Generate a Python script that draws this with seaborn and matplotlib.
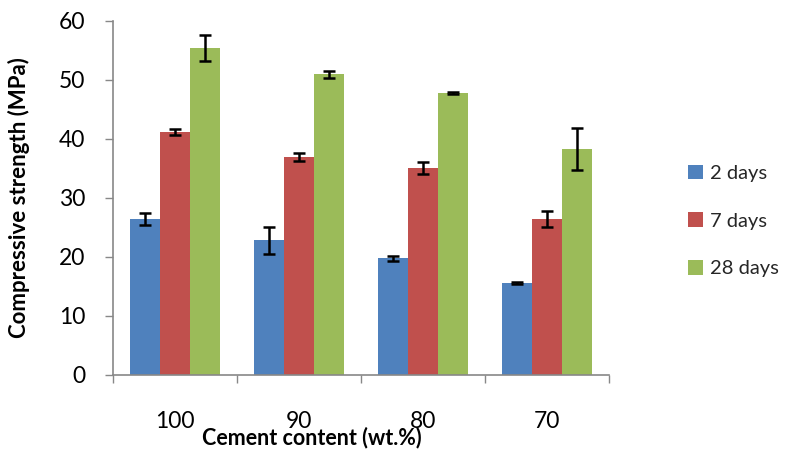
import matplotlib.pyplot as plt
import numpy as np
import pandas as pd
import seaborn as sns

sns.set_theme(style="white")
plt.rcParams["font.family"] = ["Lato", "DejaVu Sans"]

contents = ["100", "90", "80", "70"]
ages = ["2 days", "7 days", "28 days"]
strength_2d = [26.4, 22.8, 19.8, 15.6]
strength_7d = [41.2, 37.0, 35.1, 26.4]
strength_28d = [55.4, 51.0, 47.8, 38.3]
err_2d = [1.05, 2.3, 0.4, 0.15]
err_7d = [0.5, 0.7, 1.0, 1.4]
err_28d = [2.2, 0.6, 0.2, 3.6]
colors = ["#4F81BD", "#C0504D", "#9BBB59"]

df = pd.DataFrame({
    "content": contents * 3,
    "age": [a for a in ages for _ in contents],
    "strength": strength_2d + strength_7d + strength_28d,
})
errs = [err_2d, err_7d, err_28d]
means = [strength_2d, strength_7d, strength_28d]

fig = plt.figure(figsize=(7.92, 4.5), dpi=100)
ax = fig.add_axes([0.1427, 0.1667, 0.6263, 0.7867])

sns.barplot(df, x="content", y="strength", hue="age", order=contents,
            hue_order=ages, palette=colors, saturation=1, width=0.72,
            errorbar=None, linewidth=0, ax=ax)

# error bars at bar centres
for cont, m, e in zip(ax.containers, means, errs):
    xs = [p.get_x() + p.get_width() / 2 for p in cont.patches]
    ax.errorbar(xs, m, yerr=e, fmt="none", ecolor="black", elinewidth=1.8,
                capsize=4.5, capthick=1.8, zorder=5)

ax.set_ylim(0, 60)
ax.set_xlim(-0.5, 3.5)
ax.set_yticks(np.arange(0, 61, 10))
ax.set_xticks(np.arange(-0.5, 3.6, 1), minor=True)
ax.tick_params(axis="x", which="major", length=0, pad=26, labelsize=16.5,
               labelcolor="black")
ax.tick_params(axis="x", which="minor", length=6, width=1, color="#888888",
               direction="out", bottom=True)
ax.tick_params(axis="y", length=6, width=1, color="#888888", direction="out",
               left=True, labelsize=16.5, pad=14, labelcolor="black")

for s in ["top", "right"]:
    ax.spines[s].set_visible(False)
for s in ["left", "bottom"]:
    ax.spines[s].set_color("#888888")
    ax.spines[s].set_linewidth(1.2)

ax.set_ylabel("Compressive strength (MPa)", fontsize=16, fontweight="bold",
              color="black")
ax.yaxis.set_label_coords(-0.168, 0.5)
ax.set_xlabel("Cement content (wt.%)", fontsize=15.5, fontweight="bold",
              color="black")
ax.xaxis.set_label_coords(0.4, -0.145)

leg = ax.legend(loc="center left", bbox_to_anchor=(1.159, 0.435), frameon=False,
                fontsize=14.5, handlelength=0.75, handleheight=0.75,
                handletextpad=0.35, labelspacing=1.5, borderpad=0,
                borderaxespad=0)

fig.savefig("out.png", dpi=100)
